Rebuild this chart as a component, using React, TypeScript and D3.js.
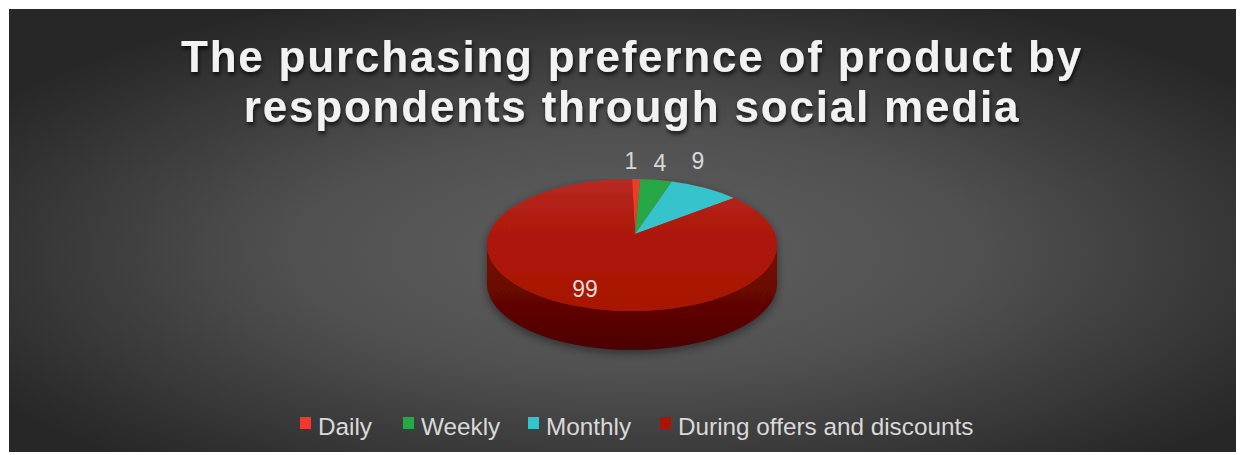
import React from "react";
import * as d3 from "d3";

const categories = ["Daily", "Weekly", "Monthly", "During offers and discounts"];
const values = [1, 4, 9, 99];
const colors = ["#ee3a2c", "#25a847", "#35c3cc", "#a81405"];
const titleLines = ["The purchasing prefernce of product by", "respondents through social media"];

const W = 1244;
const H = 455;
const cx = 632;
const cy = 245;
const rx = 145;
const ry = 66;
const depth = 39;
const apex = { x: 635, y: 234 };

function pt(a: number, dy = 0) {
  return [cx + rx * Math.sin(a), cy - ry * Math.cos(a) + dy];
}

export default function App() {
  const pie = d3.pie<number>().sort(null).value((d) => d);
  const arcs = pie(values);

  const sideStart = Math.PI / 2;
  const sideEnd = (3 * Math.PI) / 2;
  const [sx0, sy0] = pt(sideStart);
  const [sx1, sy1] = pt(sideEnd);
  const sidePath =
    `M${sx0},${sy0} A${rx},${ry} 0 0 1 ${sx1},${sy1} L${sx1},${sy1 + depth} ` +
    `A${rx},${ry} 0 0 0 ${sx0},${sy0 + depth} Z`;

  const slicePath = (s: number, e: number) => {
    const [x0, y0] = pt(s);
    const [x1, y1] = pt(e);
    const large = e - s > Math.PI ? 1 : 0;
    return `M${apex.x},${apex.y} L${x0},${y0} A${rx},${ry} 0 ${large} 1 ${x1},${y1} Z`;
  };

  const labelPos = [
    { x: 631, y: 169 },
    { x: 660, y: 171 },
    { x: 698, y: 169 },
    { x: 585, y: 297 },
  ];

  const legendX = [300, 403, 528, 660];

  return (
    <svg
      width={W}
      height={H}
      style={{ position: "absolute", left: 0, top: 0, background: "#ffffff" }}
      fontFamily="'Liberation Sans', Arial, sans-serif"
    >
      <defs>
        <radialGradient id="bg" cx="0.51" cy="0.55" r="0.62" gradientUnits="objectBoundingBox">
          <stop offset="0" stopColor="#606060" />
          <stop offset="0.45" stopColor="#505050" />
          <stop offset="1" stopColor="#272727" />
        </radialGradient>
        <linearGradient id="topFace" x1="0" y1="0" x2="0" y2="1">
          <stop offset="0" stopColor="#b82a22" />
          <stop offset="0.35" stopColor="#ae1a0b" />
          <stop offset="1" stopColor="#a81203" />
        </linearGradient>
        <linearGradient id="side" x1="0" y1="0" x2="0" y2="1">
          <stop offset="0" stopColor="#7c0a03" />
          <stop offset="1" stopColor="#4c0300" />
        </linearGradient>
        <filter id="tshadow" x="-10%" y="-30%" width="120%" height="160%">
          <feDropShadow dx="1" dy="3" stdDeviation="2" floodColor="#000" floodOpacity="0.75" />
        </filter>
        <filter id="pshadow" x="-20%" y="-20%" width="140%" height="150%">
          <feDropShadow dx="0" dy="3" stdDeviation="5" floodColor="#000" floodOpacity="0.45" />
        </filter>
        <clipPath id="pieClip">
          <rect x={0} y={179} width={W} height={H} />
        </clipPath>
      </defs>
      <rect x={9} y={9} width={1227} height={443} fill="url(#bg)" />

      {titleLines.map((t, i) => (
        <text
          key={i}
          x={632}
          y={72 + i * 50}
          textAnchor="middle"
          fontSize={44}
          fontWeight="bold"
          letterSpacing={1.8}
          fill="#f2f2f2"
          filter="url(#tshadow)"
        >
          {t}
        </text>
      ))}

      <g clipPath="url(#pieClip)" filter="url(#pshadow)">
        <path d={sidePath} fill="url(#side)" />
        <ellipse cx={cx} cy={cy} rx={rx} ry={ry} fill="url(#topFace)" />
        {arcs.map((a, i) => (
          <path
            key={i}
            d={slicePath(a.startAngle, a.endAngle)}
            fill={i === 3 ? "url(#topFace)" : colors[i]}
          />
        ))}
      </g>

      {arcs.map((a, i) => (
        <text
          key={i}
          x={labelPos[i].x}
          y={labelPos[i].y}
          textAnchor="middle"
          fontSize={23}
          fill="#d9d9d9"
        >
          {a.data}
        </text>
      ))}

      {categories.map((c, i) => (
        <g key={c}>
          <rect x={legendX[i]} y={417} width={11} height={12} fill={colors[i]} />
          <text x={legendX[i] + 18} y={435} fontSize={24.3} fill="#d9d9d9">
            {c}
          </text>
        </g>
      ))}
    </svg>
  );
}
